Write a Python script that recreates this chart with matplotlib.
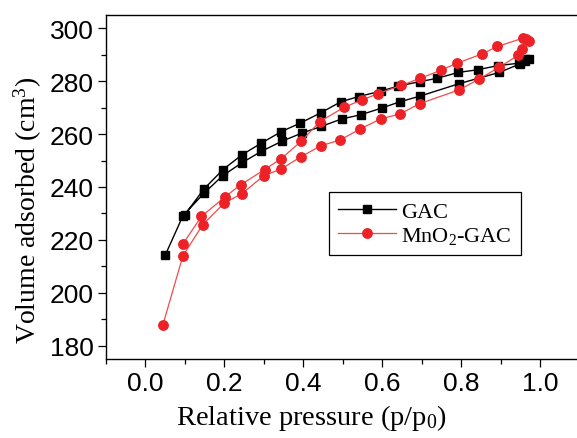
import numpy as np
import matplotlib
matplotlib.use("Agg")
import matplotlib.pyplot as plt
from matplotlib.ticker import MultipleLocator

plt.rcParams["mathtext.fontset"] = "custom"
plt.rcParams["mathtext.rm"] = "Liberation Serif"
plt.rcParams["mathtext.it"] = "Liberation Serif:italic"
plt.rcParams["mathtext.default"] = "regular"

# GAC isotherm: adsorption branch then desorption branch (closed loop)
gac_p = [0.05, 0.095, 0.148, 0.196, 0.244, 0.294, 0.346, 0.397, 0.446, 0.497, 0.546,
         0.600, 0.645, 0.695, 0.794, 0.897, 0.949, 0.962, 0.973,
         0.962, 0.948, 0.894, 0.842, 0.793, 0.740, 0.695, 0.640, 0.596, 0.541,
         0.495, 0.444, 0.393, 0.344, 0.294, 0.244, 0.196, 0.148, 0.100]
gac_v = [214.2, 229.1, 237.6, 244.3, 249.1, 253.5, 257.3, 260.4, 262.9, 265.7, 267.3,
         269.9, 272.2, 274.3, 279.0, 283.3, 286.5, 287.8, 288.4,
         288.2, 286.8, 285.9, 284.3, 283.3, 281.1, 279.8, 278.1, 276.2, 274.2,
         272.2, 268.0, 264.2, 260.9, 256.6, 252.1, 246.5, 239.2, 229.6]

# MnO2-GAC isotherm
mn_p = [0.044, 0.095, 0.145, 0.200, 0.244, 0.300, 0.344, 0.395, 0.445, 0.494, 0.545,
        0.596, 0.645, 0.695, 0.795, 0.846, 0.897, 0.945, 0.955, 0.965, 0.973,
        0.956, 0.892, 0.852, 0.790, 0.750, 0.697, 0.648, 0.590, 0.549, 0.503,
        0.442, 0.395, 0.343, 0.302, 0.241, 0.202, 0.142, 0.095]
mn_v = [187.8, 214.0, 225.7, 234.0, 237.4, 244.3, 246.8, 251.5, 255.6, 257.8, 262.0,
        265.7, 267.6, 271.5, 276.7, 280.8, 285.3, 289.8, 292.3, 295.9, 295.1,
        296.2, 293.1, 290.2, 286.8, 284.2, 281.1, 278.4, 275.3, 272.9, 270.1,
        264.7, 257.3, 250.6, 246.6, 240.8, 236.3, 228.9, 218.5]

W, H = 577, 439
fig = plt.figure(figsize=(W / 100, H / 100), dpi=100)
# right spine sits just outside the picture, as in the cropped original
ax = fig.add_axes([106 / W, (H - 360) / H, 473.4 / W, 344 / H])

ax.plot(gac_p, gac_v, color="black", lw=1.0, marker="s", ms=6.2,
        mfc="black", mec="black", label="GAC")
ax.plot(mn_p, mn_v, color="#f24a4a", lw=0.9, marker="o", ms=6.8,
        mfc="#ec2227", mec="#ec2227", label=r"MnO$_2$-GAC")

ax.set_xlim(-0.1, 1.1)
ax.set_ylim(175, 305)
ax.xaxis.set_minor_locator(MultipleLocator(0.1))
ax.yaxis.set_major_locator(MultipleLocator(20))
ax.yaxis.set_minor_locator(MultipleLocator(10))
ax.set_xticks(np.arange(0, 1.01, 0.2))
ax.set_xticklabels(["0.0", "0.2", "0.4", "0.6", "0.8", "1.0"])

for s in ("top", "bottom", "left"):
    ax.spines[s].set_linewidth(1.0)
ax.spines["right"].set_visible(False)
ax.tick_params(which="major", direction="out", length=6, width=0.9,
               labelsize=19, pad=3, top=False, right=False)
ax.tick_params(which="minor", direction="out", length=3.5, width=0.9,
               top=False, right=False)
for lab in ax.get_xticklabels() + ax.get_yticklabels():
    lab.set_family("Liberation Sans")

ax.set_xlabel(r"Relative pressure (p/p$_0$)", family="Liberation Serif",
              fontsize=20.5)
ax.xaxis.set_label_coords(0.435, -0.125)
ax.set_ylabel(r"Volume adsorbed (cm$^3$)", family="Liberation Serif",
              fontsize=20)
ax.yaxis.set_label_coords(-0.132, 0.436)

leg = ax.legend(loc="upper left", bbox_to_anchor=(0.471, 0.485),
                borderaxespad=0, prop={"family": "Liberation Serif", "size": 16},
                handlelength=2.6, handletextpad=0.25, borderpad=0.4,
                labelspacing=0.15, fancybox=False, framealpha=1)
leg.get_frame().set_edgecolor("black")
leg.get_frame().set_linewidth(0.9)

fig.savefig("out.png", dpi=100)
